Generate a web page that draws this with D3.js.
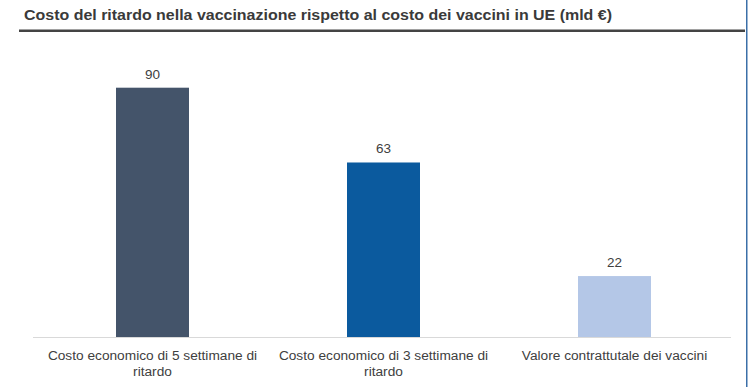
<!DOCTYPE html>
<html>
<head>
<meta charset="utf-8">
<script src="https://cdn.jsdelivr.net/npm/d3@7"></script>
<style>
  body { margin: 0; background: #fff; }
  text { font-family: "Liberation Sans", Arial, sans-serif; }
</style>
</head>
<body>
<div id="chart"></div>
<script>
var w = 749;
var h = 387;

// data
var categories = ["Costo economico di 5 settimane di ritardo", "Costo economico di 3 settimane di ritardo", "Valore contrattutale dei vaccini"];
var values = [90, 63, 22];
var colors = ["#44546a", "#0b5a9e", "#b4c7e7"];
var title = "Costo del ritardo nella vaccinazione rispetto al costo dei vaccini in UE (mld €)";

var svg = d3.select("#chart")
  .append("svg")
  .attr("width", w)
  .attr("height", h);

// title + rule
svg.append("text")
  .attr("x", 24)
  .attr("y", 20)
  .attr("font-size", "14.5px")
  .attr("font-weight", "bold")
  .attr("fill", "#3a3a3a")
  .attr("textLength", 588)
  .attr("lengthAdjust", "spacingAndGlyphs")
  .text(title);

svg.append("rect")
  .attr("x", 19).attr("y", 29.5)
  .attr("width", 726).attr("height", 2.5)
  .attr("fill", "#444");

// right edge line
svg.append("rect")
  .attr("x", 746).attr("y", 0)
  .attr("width", 1.5).attr("height", h)
  .attr("fill", "#3b6fa8");

var x = d3.scaleBand()
  .domain(categories)
  .range([37, 730])
  .paddingInner(0.684)
  .paddingOuter(0.342);

var y = d3.scaleLinear()
  .domain([0, 100])
  .range([337, 60]);

svg.selectAll("rect.bar")
  .data(values)
  .enter()
  .append("rect")
  .attr("class", "bar")
  .attr("x", function(d, i) { return x(categories[i]); })
  .attr("y", function(d) { return y(d); })
  .attr("width", x.bandwidth())
  .attr("height", function(d) { return y(0) - y(d); })
  .attr("fill", function(d, i) { return colors[i]; });

svg.selectAll("text.val")
  .data(values)
  .enter()
  .append("text")
  .attr("class", "val")
  .attr("x", function(d, i) { return x(categories[i]) + x.bandwidth() / 2; })
  .attr("y", function(d) { return y(d) - 9; })
  .attr("text-anchor", "middle")
  .attr("font-size", "13.5px")
  .attr("fill", "#404040")
  .text(function(d) { return d; });

// baseline
svg.append("line")
  .attr("x1", 33).attr("x2", 731)
  .attr("y1", y(0) + 0.5).attr("y2", y(0) + 0.5)
  .attr("stroke", "#d9d9d9");

// category labels, wrapped
var lbl = svg.selectAll("text.cat")
  .data(categories)
  .enter()
  .append("text")
  .attr("class", "cat")
  .attr("text-anchor", "middle")
  .attr("font-size", "13.7px")
  .attr("fill", "#404040");

lbl.each(function(d) {
  var t = d3.select(this);
  var cx = x(d) + x.bandwidth() / 2;
  var words = d.split(" ");
  var lines = [];
  var line = [];
  var tmp = t.append("tspan");
  words.forEach(function(wd) {
    line.push(wd);
    tmp.text(line.join(" "));
    if (tmp.node().getComputedTextLength() > 222 && line.length > 1) {
      line.pop();
      lines.push(line.join(" "));
      line = [wd];
    }
  });
  lines.push(line.join(" "));
  tmp.remove();
  lines.forEach(function(s, k) {
    t.append("tspan")
      .attr("x", cx)
      .attr("y", 360 + k * 15.5)
      .text(s);
  });
});
</script>
</body>
</html>
